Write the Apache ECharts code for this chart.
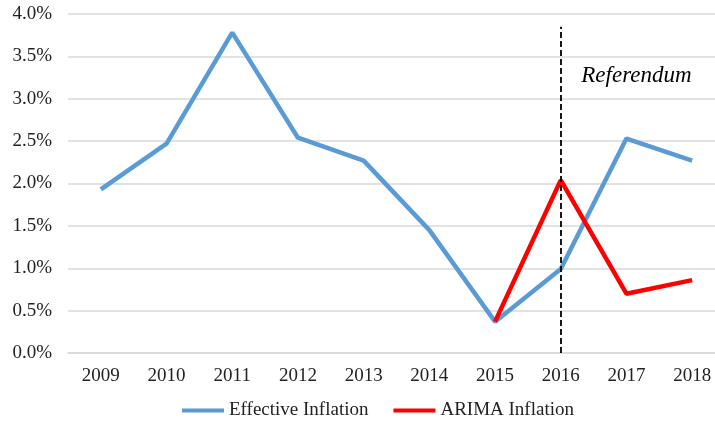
<!DOCTYPE html>
<html><head><meta charset="utf-8">
<script src="https://cdn.jsdelivr.net/npm/echarts@6/dist/echarts.min.js"></script>
<style>html,body{margin:0;padding:0;background:#fff}#c{width:715px;height:425px}</style>
</head><body><div id="c"></div>
<script>
var years = ['2009','2010','2011','2012','2013','2014','2015','2016','2017','2018'];
var effective = [1.93, 2.47, 3.78, 2.54, 2.27, 1.45, 0.37, 0.99, 2.53, 2.27];
var arima = [null, null, null, null, null, null, 0.37, 2.04, 0.70, 0.86];
var yTicks = [0, 0.5, 1.0, 1.5, 2.0, 2.5, 3.0, 3.5, 4.0];
var eventYear = '2016';
var eventTop = 3.85;
var eventLabel = 'Referendum';

var font = 'Liberation Serif, Times New Roman, serif';
var chart = echarts.init(document.getElementById('c'));
chart.setOption({
  animation: false,
  grid: {left: 68, width: 657, top: 14, bottom: 72, containLabel: false, outerBoundsMode: 'none'},
  legend: {
    top: 401, left: 182, padding: 0,
    itemWidth: 42, itemHeight: 4, itemGap: 25,
    textStyle: {fontFamily: font, fontSize: 19, color: '#222'},
    data: [{name: 'Effective Inflation', icon: 'rect'}, {name: 'ARIMA Inflation', icon: 'rect'}]
  },
  xAxis: {
    type: 'category', data: years, boundaryGap: true,
    axisLine: {lineStyle: {color: '#d9d9d9', width: 1.5}},
    axisTick: {show: false},
    axisLabel: {fontFamily: font, fontSize: 19, color: '#222', margin: 14}
  },
  yAxis: {
    type: 'value', min: yTicks[0], max: yTicks[yTicks.length - 1], interval: 0.5,
    axisLine: {show: false}, axisTick: {show: false},
    splitLine: {lineStyle: {color: '#d9d9d9', width: 1.5}},
    axisLabel: {fontFamily: font, fontSize: 19, color: '#222', margin: 16,
      formatter: function (v) { return v.toFixed(1) + '%'; }}
  },
  series: [
    {
      name: 'Effective Inflation', type: 'line', data: effective,
      symbol: 'none', lineStyle: {color: '#5b9bd5', width: 4.5}, itemStyle: {color: '#5b9bd5'},
      z: 2,
      markLine: {
        silent: true, symbol: 'none',
        lineStyle: {color: '#000', type: [6, 3], width: 1.8},
        label: {show: false},
        data: [[{coord: [eventYear, 0]}, {coord: [eventYear, eventTop]}]]
      },
      markPoint: {
        symbol: 'circle', symbolSize: 0,
        label: {show: true, formatter: eventLabel, fontFamily: font, fontStyle: 'italic',
          fontSize: 23, color: '#000', offset: [10, 0]},
        data: [{coord: ['2017', 3.27]}]
      }
    },
    {
      name: 'ARIMA Inflation', type: 'line', data: arima,
      symbol: 'none', lineStyle: {color: '#ff0000', width: 4.5}, itemStyle: {color: '#ff0000'},
      z: 3
    }
  ]
});
</script></body></html>
